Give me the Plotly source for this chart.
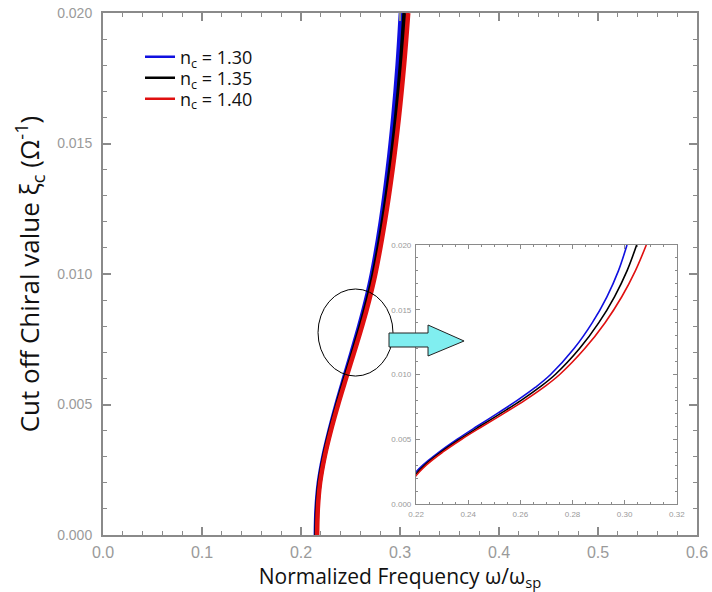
import plotly.graph_objects as go

# Chiral cut-off values (y) and normalized frequency (x) for each n_c
xi_c = [0.0, 0.001, 0.002, 0.003, 0.004, 0.005, 0.006, 0.007, 0.008, 0.009,
        0.010, 0.012, 0.014, 0.016, 0.018, 0.020]
freq_130 = [0.2150, 0.2157, 0.2180, 0.2226, 0.2288, 0.2358, 0.2434, 0.2512, 0.2588, 0.2657,
            0.2716, 0.2806, 0.2876, 0.2932, 0.2976, 0.3009]
freq_135 = [0.2157, 0.2164, 0.2187, 0.2233, 0.2295, 0.2367, 0.2445, 0.2525, 0.2603, 0.2673,
            0.2734, 0.2827, 0.2901, 0.2961, 0.3009, 0.3046]
freq_140 = [0.2163, 0.2170, 0.2193, 0.2239, 0.2302, 0.2375, 0.2455, 0.2537, 0.2617, 0.2689,
            0.2751, 0.2847, 0.2925, 0.2989, 0.3041, 0.3083]
labels = ["n<sub>c</sub> = 1.30", "n<sub>c</sub> = 1.35", "n<sub>c</sub> = 1.40"]
colors = ["#1010e0", "#000000", "#e01010"]
series = [freq_130, freq_135, freq_140]

x_ticks = [0.0, 0.1, 0.2, 0.3, 0.4, 0.5, 0.6]
y_ticks = [0.000, 0.005, 0.010, 0.015, 0.020]
inset_x_ticks = [0.22, 0.24, 0.26, 0.28, 0.30, 0.32]

fig = go.Figure()

# main curves (thick)
for s, c in zip(series, colors):
    fig.add_trace(go.Scatter(x=s, y=xi_c, mode="lines", line=dict(color=c, width=4.5, shape="spline"),
                             showlegend=False, xaxis="x", yaxis="y", hoverinfo="skip"))
# inset curves (thin)
for s, c in zip(series, colors):
    fig.add_trace(go.Scatter(x=s, y=xi_c, mode="lines", line=dict(color=c, width=1.6, shape="spline"),
                             showlegend=False, xaxis="x2", yaxis="y2", hoverinfo="skip"))
# legend entries, one legend per row so the rows can sit close together
legend_names = ["legend", "legend2", "legend3"]
for lab, c, lg in zip(labels, colors, legend_names):
    fig.add_trace(go.Scatter(x=[None], y=[None], mode="lines", line=dict(color=c, width=2.5),
                             name=lab, showlegend=True, legend=lg))

axcol = "#8a8a8a"
tickfont_col = "#9a9a9a"
title_font = "Open Sans, sans-serif"

common = dict(showgrid=False, zeroline=False, showline=True, linecolor=axcol, linewidth=2,
              mirror="ticks", ticks="inside", tickcolor=axcol, automargin=False)

legend_rows_y = [0.9157, 0.8755, 0.8353]
legend_style = dict(x=0.0623, xanchor="left", yanchor="middle", bgcolor="rgba(0,0,0,0)",
                    font=dict(size=18, color="#111", family=title_font), itemwidth=30)

fig.update_layout(
    width=712, height=592,
    margin=dict(l=103, r=15, t=13, b=57),
    paper_bgcolor="white", plot_bgcolor="white",
    font=dict(family="Liberation Sans, Arial, sans-serif"),
    xaxis=dict(range=[0, 0.6], tickvals=x_ticks, ticktext=[f"{v:.1f}" for v in x_ticks],
               ticklen=8, tickwidth=1.5,
               minor=dict(dtick=0.02, ticks="inside", ticklen=4, tickcolor=axcol, tickwidth=1),
               tickfont=dict(size=16, color=tickfont_col), ticklabelstandoff=2,
               title=dict(text="Normalized Frequency ω/ω<sub>sp</sub>",
                          font=dict(size=21, color="#111", family=title_font), standoff=13),
               **common),
    yaxis=dict(range=[0, 0.020], tickvals=y_ticks, ticktext=[f"{v:.3f}" for v in y_ticks],
               ticklen=8, tickwidth=1.5,
               minor=dict(dtick=0.001, ticks="inside", ticklen=4, tickcolor=axcol, tickwidth=1),
               tickfont=dict(size=14, color=tickfont_col), ticklabelstandoff=6,
               title=dict(text="Cut off Chiral value ξ<sub>c</sub> (Ω<sup>-1</sup>)",
                          font=dict(size=26, color="#111", family=title_font), standoff=10),
               **common),
    xaxis2=dict(domain=[0.527, 0.966], anchor="y2", range=[0.22, 0.32], tickvals=inset_x_ticks,
                ticktext=[f"{v:.2f}" for v in inset_x_ticks], ticklen=4, tickwidth=1,
                minor=dict(dtick=0.005, ticks="inside", ticklen=2, tickcolor=axcol),
                tickfont=dict(size=8, color=tickfont_col), ticklabelstandoff=2,
                showgrid=False, zeroline=False, showline=True, linecolor=axcol, linewidth=1.2,
                mirror="ticks", ticks="inside", tickcolor=axcol, automargin=False),
    yaxis2=dict(domain=[0.0594, 0.5556], anchor="x2", range=[0, 0.020], tickvals=y_ticks,
                ticktext=[f"{v:.3f}" for v in y_ticks], ticklen=4, tickwidth=1,
                minor=dict(dtick=0.001, ticks="inside", ticklen=2, tickcolor=axcol),
                tickfont=dict(size=8, color=tickfont_col), ticklabelstandoff=2,
                showgrid=False, zeroline=False, showline=True, linecolor=axcol, linewidth=1.2,
                mirror="ticks", ticks="inside", tickcolor=axcol, automargin=False),
    legend=dict(y=legend_rows_y[0], **legend_style),
    legend2=dict(y=legend_rows_y[1], **legend_style),
    legend3=dict(y=legend_rows_y[2], **legend_style),
    showlegend=True,
)

# highlight ellipse on the main plot
fig.add_shape(type="circle", xref="x", yref="y", x0=0.2172, x1=0.2929, y0=0.00609, y1=0.009425,
              line=dict(color="black", width=1))
# arrow pointing to inset
fig.add_shape(type="path", xref="x", yref="y",
              path="M0.2889,0.007739 L0.3283,0.007739 L0.3283,0.008046 L0.3647,0.007433 "
                   "L0.3283,0.006858 L0.3283,0.007203 L0.2889,0.007203 Z",
              fillcolor="#80eef0", line=dict(color="#222", width=1))

fig.write_html("out.html")
